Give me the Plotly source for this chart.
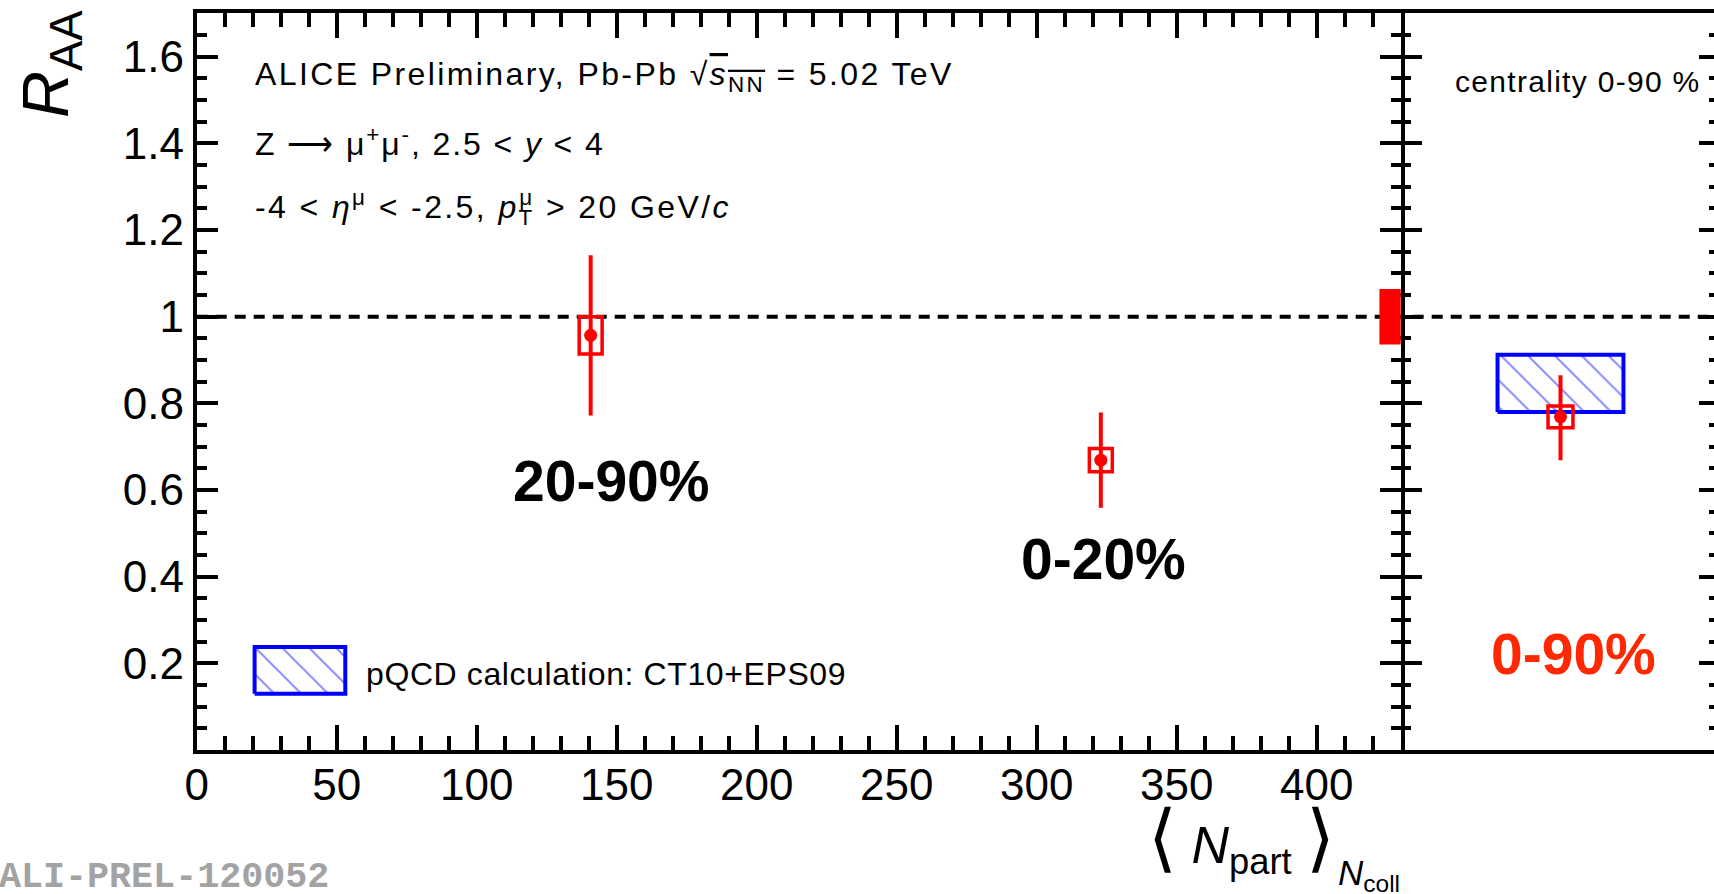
import plotly.graph_objects as go

# ---------------- data ----------------
cent_labels = ["20-90%", "0-20%"]
npart = [140.7, 322.9]
raa = [0.957, 0.669]
raa_stat = [0.185, 0.110]
raa_syst = [0.043, 0.027]

mb_label = "0-90%"
mb_x = [0.0]
mb_raa = [0.769]
mb_stat_up = [0.096]
mb_stat_dn = [0.100]
mb_syst = [0.025]

pqcd_low = [0.780]
pqcd_high = [0.912]

global_unc = 0.064

ytick_vals = [0.2, 0.4, 0.6, 0.8, 1.0, 1.2, 1.4, 1.6]
ytick_text = ["0.2", "0.4", "0.6", "0.8", "1", "1.2", "1.4", "1.6"]

# ---------------- geometry helpers (pixels -> paper) ----------------
W, H = 1714, 894
def fx(p):
    return p / W
def fy(p):
    return 1 - p / H

X0, XDIV = 196.7, 1400.7
YT, YB = 13.4, 750.0
RED = "#ff0000"
BLUE = "#0000ff"
FONT = "Liberation Sans, Arial, Helvetica, sans-serif"

fig = go.Figure()

# pQCD band in the 0-90% panel (hatched box)
half_w = 0.394
for lo, hi in zip(pqcd_low, pqcd_high):
    fig.add_trace(go.Scatter(
        x=[mb_x[0] - half_w, mb_x[0] + half_w, mb_x[0] + half_w, mb_x[0] - half_w, mb_x[0] - half_w],
        y=[lo, lo, hi, hi, lo],
        xaxis="x2", yaxis="y2", mode="lines", fill="toself",
        fillcolor="rgba(255,255,255,0)",
        fillpattern=dict(shape="\\", fgcolor=BLUE, bgcolor="white", size=19, solidity=0.1),
        line=dict(color=BLUE, width=4), hoverinfo="skip"))

# centrality-differential points
fig.add_trace(go.Scatter(
    x=npart, y=raa, mode="markers", xaxis="x", yaxis="y",
    marker=dict(symbol="circle", size=13, color=RED),
    error_y=dict(type="data", array=raa_stat, color=RED, thickness=4, width=0),
    cliponaxis=False))

# centrality-integrated point
fig.add_trace(go.Scatter(
    x=mb_x, y=mb_raa, mode="markers", xaxis="x2", yaxis="y2",
    marker=dict(symbol="circle", size=13, color=RED),
    error_y=dict(type="data", array=mb_stat_up, arrayminus=mb_stat_dn, symmetric=False,
                 color=RED, thickness=4, width=0),
    cliponaxis=False))

# legend key (own unit axes)
kx0, kx1, ky0, ky1 = 254.6, 345.3, 647.0, 693.7
pad = 8
kw, kh = kx1 - kx0, ky1 - ky0
fig.add_trace(go.Scatter(
    x=[0, 1, 1, 0, 0], y=[0, 0, 1, 1, 0], xaxis="x3", yaxis="y4",
    mode="lines", fill="toself", fillcolor="rgba(255,255,255,0)",
    fillpattern=dict(shape="\\", fgcolor=BLUE, bgcolor="white", size=19, solidity=0.1),
    line=dict(color=BLUE, width=4), hoverinfo="skip"))

# invisible trace carrying the right-hand tick axis
fig.add_trace(go.Scatter(x=[mb_x[0]], y=[None], xaxis="x2", yaxis="y3",
                         mode="markers", hoverinfo="skip"))

shapes = []
# reference line at unity
shapes.append(dict(type="line", xref="paper", x0=fx(X0), x1=1, yref="y", y0=1, y1=1,
                   line=dict(color="black", width=4, dash="11px,8px"), layer="below"))
# systematic boxes
box_hw = 4.1
for xv, yv, s in zip(npart, raa, raa_syst):
    shapes.append(dict(type="rect", xref="x", yref="y", x0=xv - box_hw, x1=xv + box_hw,
                       y0=yv - s, y1=yv + s, line=dict(color=RED, width=3.5),
                       fillcolor="rgba(0,0,0,0)", layer="above"))
mb_box_hw = 0.078
for xv, yv, s in zip(mb_x, mb_raa, mb_syst):
    shapes.append(dict(type="rect", xref="x2", yref="y2", x0=xv - mb_box_hw, x1=xv + mb_box_hw,
                       y0=yv - s, y1=yv + s, line=dict(color=RED, width=3.5),
                       fillcolor="rgba(0,0,0,0)", layer="above"))
# global normalisation uncertainty
shapes.append(dict(type="rect", xref="x", yref="y", x0=422.4, x1=431,
                   y0=1 - global_unc, y1=1 + global_unc, line=dict(width=0),
                   fillcolor=RED, layer="above"))

ann = []
def text(x, y, s, size, xanchor="left", yanchor="middle", color="black", family=FONT, angle=0):
    ann.append(dict(xref="paper", yref="paper", x=fx(x), y=fy(y), text=s, showarrow=False,
                    xanchor=xanchor, yanchor=yanchor, textangle=angle,
                    font=dict(size=size, color=color, family=family)))

def spaced(s, ls):
    return '<span style="letter-spacing:%.1fpx">%s</span>' % (ls, s)

text(253, 77, spaced("ALICE Preliminary, Pb-Pb √<span style=\"text-decoration:overline\"><i>s</i><sub>NN</sub></span> = 5.02 TeV", 2.4), 32)
text(253, 142, spaced("Z ⟶ μ<sup>+</sup>μ<sup>-</sup>, 2.5 &lt; <i>y</i> &lt; 4", 1.9), 32)
text(253, 208, spaced("-4 &lt; <i>η</i><sup>μ</sup> &lt; -2.5, <i>p</i><sub><span style=\"letter-spacing:-13px\">T</span></sub><sup>μ</sup> &gt; 20 GeV/<i>c</i>", 2.4), 32)
text(1453, 81, spaced("centrality 0-90 %", 1.3), 30)
text(611, 481, "<b>" + cent_labels[0] + "</b>", 57, xanchor="center")
text(1103, 559, "<b>" + cent_labels[1] + "</b>", 57, xanchor="center")
text(1573, 654, "<b>" + mb_label + "</b>", 57, xanchor="center", color="#ff2800")
text(364, 674, spaced("pQCD calculation: CT10+EPS09", 0.6), 32)
text(331, 877, "<b>ALI-PREL-120052</b>", 36.7, xanchor="right", color="#a3a3a3",
     family="Liberation Mono, Courier New, monospace")
text(50, 8, "<i>R</i><sub>AA</sub>", 65, xanchor="center", yanchor="top", angle=-90)
text(1337, 839, '<span style="font-size:74px">⟨</span> <i>N</i><sub>part</sub> <span style="font-size:74px">⟩</span>', 52, xanchor="right")
text(1336, 875, "<i>N</i><sub>coll</sub>", 35, xanchor="left")

tick_common = dict(showgrid=False, zeroline=False, linecolor="black", linewidth=4,
                   tickcolor="black", tickwidth=4)

fig.update_layout(
    width=W, height=H, margin=dict(l=0, r=0, t=0, b=0, autoexpand=False),
    paper_bgcolor="white", plot_bgcolor="white", showlegend=False,
    font=dict(family=FONT, color="black"),
    xaxis=dict(domain=[fx(X0), fx(XDIV)], range=[0, 430], anchor="y",
               showline=True, mirror="ticks", ticks="inside", ticklen=25,
               tickmode="linear", tick0=0, dtick=50,
               minor=dict(ticks="inside", ticklen=14, dtick=10, tick0=0,
                          tickwidth=4, tickcolor="black"),
               tickfont=dict(size=44, family=FONT), ticklabelstandoff=-7,
               **tick_common),
    yaxis=dict(domain=[fy(YB), fy(YT)], range=[0, 1.7], anchor="x",
               showline=True, mirror="ticks", ticks="inside", ticklen=21,
               tickmode="array", tickvals=ytick_vals, ticktext=ytick_text,
               minor=dict(ticks="inside", ticklen=10, dtick=0.05, tick0=0,
                          tickwidth=4, tickcolor="black"),
               tickfont=dict(size=44, family=FONT), ticklabelstandoff=0,
               **tick_common),
    xaxis2=dict(domain=[fx(XDIV), 1], range=[-1, 0.9606], anchor="y2",
                showline=True, mirror=True, ticks="", showticklabels=False,
                **tick_common),
    yaxis2=dict(domain=[fy(YB), fy(YT)], range=[0, 1.7], anchor="x2",
                showline=False, ticks="inside", ticklen=21, tickmode="linear",
                tick0=0, dtick=0.2, showticklabels=False,
                minor=dict(ticks="inside", ticklen=10, dtick=0.05, tick0=0,
                           tickwidth=4, tickcolor="black"),
                **tick_common),
    yaxis3=dict(overlaying="y2", side="right", anchor="x2", range=[0, 1.7],
                showline=False, ticks="inside", ticklen=15, tickmode="linear",
                tick0=0, dtick=0.2, showticklabels=False,
                minor=dict(ticks="inside", ticklen=5, dtick=0.05, tick0=0,
                           tickwidth=4, tickcolor="black"),
                **tick_common),
    xaxis3=dict(domain=[fx(kx0 - pad), fx(kx1 + pad)],
                range=[-pad / kw, 1 + pad / kw], anchor="y4", visible=False),
    yaxis4=dict(domain=[fy(ky1 + pad), fy(ky0 - pad)],
                range=[-pad / kh, 1 + pad / kh], anchor="x3", visible=False),
    shapes=shapes, annotations=ann,
)

fig.write_html("out.html")
